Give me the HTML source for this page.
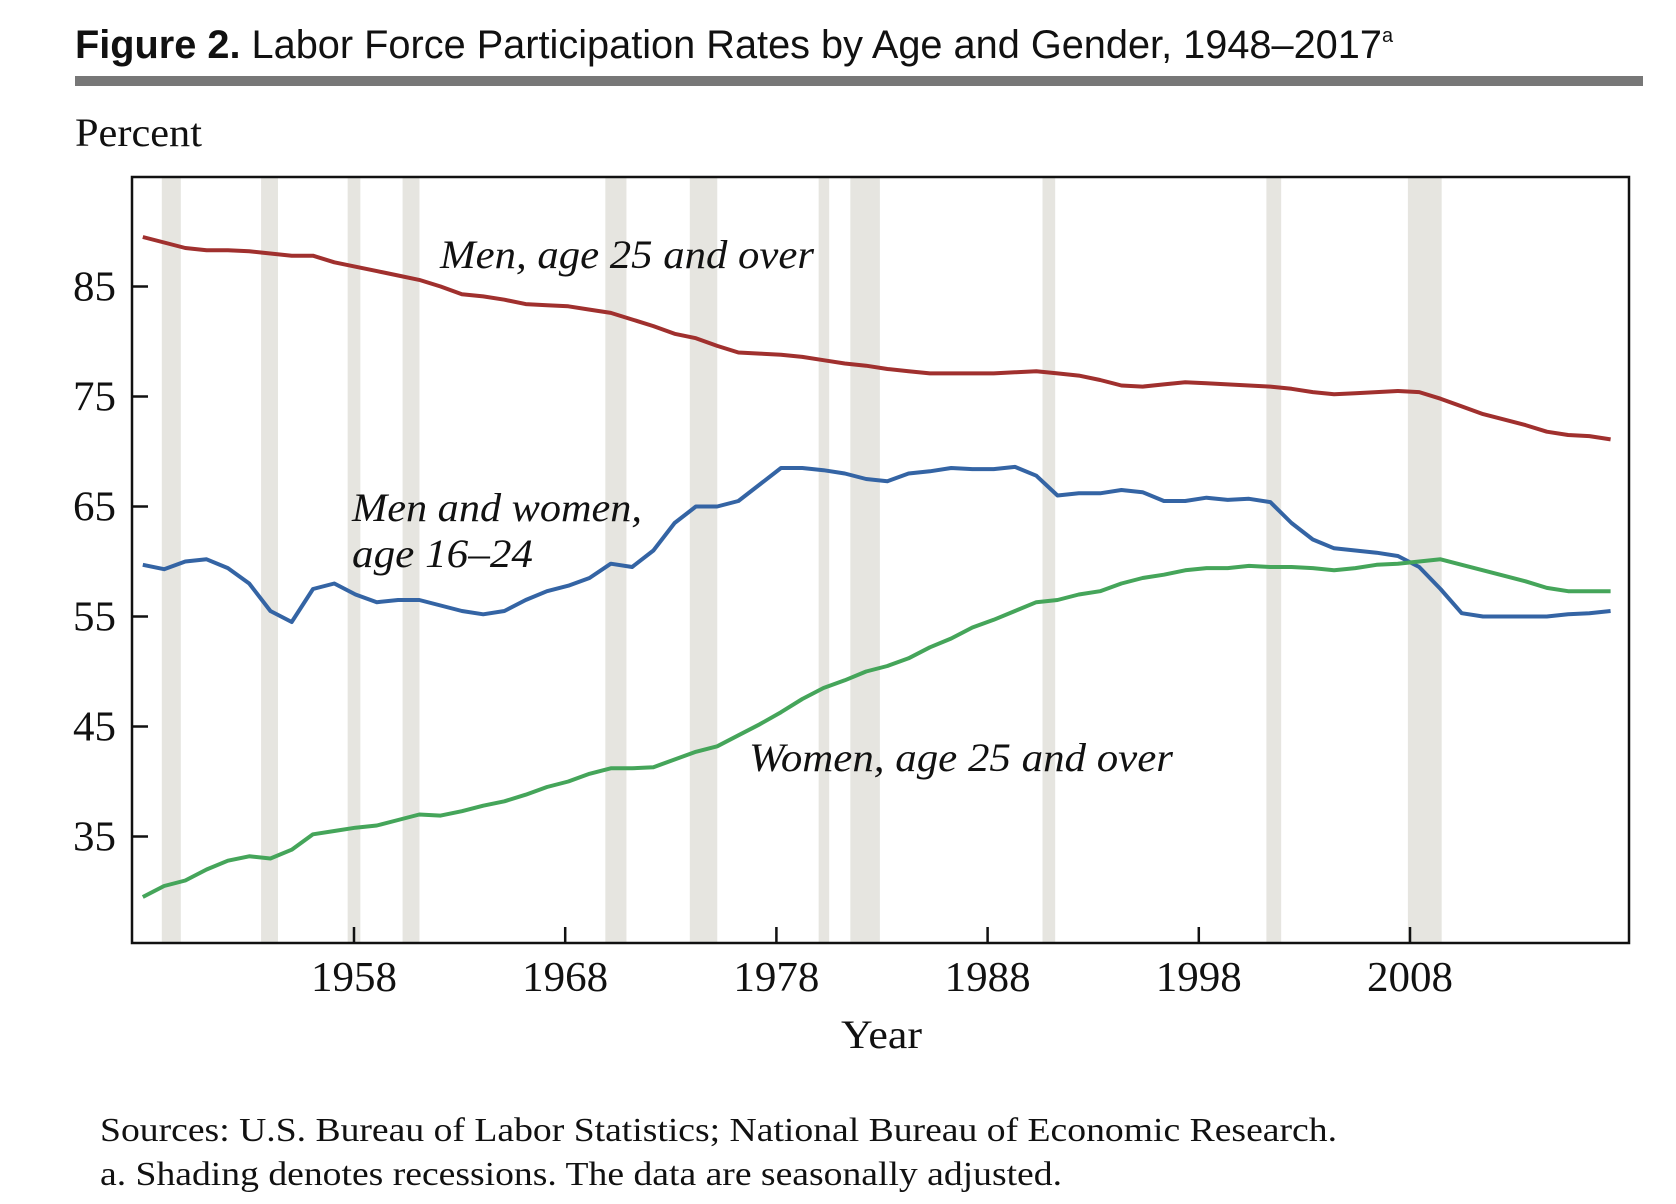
<!DOCTYPE html>
<html><head><meta charset="utf-8"><style>
html,body{margin:0;padding:0;background:#fff;}
svg{display:block;}
</style></head><body>
<svg id="chart" width="1676" height="1204" viewBox="0 0 1676 1204" xmlns="http://www.w3.org/2000/svg">
<text x="75" y="58" font-family="Liberation Sans Narrow, Liberation Sans, sans-serif" font-size="40" fill="#111" textLength="1318" lengthAdjust="spacingAndGlyphs"><tspan font-weight="bold">Figure 2.</tspan>  Labor Force Participation Rates by Age and Gender, 1948–2017<tspan font-size="20" dy="-16">a</tspan></text>
<rect x="75" y="76" width="1568" height="10" fill="#777"/>
<text x="75" y="146" font-family="Liberation Serif, serif" font-size="40" fill="#111" textLength="127" lengthAdjust="spacingAndGlyphs">Percent</text>
<g id="shades"></g>
<g id="lines"></g>
<g id="axes"></g>
<text x="440" y="268" font-family="Liberation Serif, serif" font-style="italic" font-size="40" fill="#111" textLength="374" lengthAdjust="spacingAndGlyphs">Men, age 25 and over</text>
<text x="352" y="521" font-family="Liberation Serif, serif" font-style="italic" font-size="40" fill="#111" textLength="290" lengthAdjust="spacingAndGlyphs">Men and women,</text>
<text x="352" y="567" font-family="Liberation Serif, serif" font-style="italic" font-size="40" fill="#111" textLength="181" lengthAdjust="spacingAndGlyphs">age 16–24</text>
<text x="749" y="771" font-family="Liberation Serif, serif" font-style="italic" font-size="40" fill="#111" textLength="424" lengthAdjust="spacingAndGlyphs">Women, age 25 and over</text>
<text x="841" y="1048" font-family="Liberation Serif, serif" font-size="40" fill="#111" textLength="81" lengthAdjust="spacingAndGlyphs">Year</text>
<text x="100" y="1141" font-family="Liberation Serif, serif" font-size="34" fill="#111" textLength="1237" lengthAdjust="spacingAndGlyphs">Sources: U.S. Bureau of Labor Statistics; National Bureau of Economic Research.</text>
<text x="100" y="1185" font-family="Liberation Serif, serif" font-size="34" fill="#111" textLength="962" lengthAdjust="spacingAndGlyphs">a. Shading denotes recessions. The data are seasonally adjusted.</text>
</svg>
<script>
const years = [];
for (let y = 1948; y <= 2017; y++) years.push(y);
const menOver25 = [89.5,89,88.5,88.3,88.3,88.2,88,87.8,87.8,87.2,86.8,86.4,86,85.6,85,84.3,84.1,83.8,83.4,83.3,83.2,82.9,82.6,82,81.4,80.7,80.3,79.6,79,78.9,78.8,78.6,78.3,78,77.8,77.5,77.3,77.1,77.1,77.1,77.1,77.2,77.3,77.1,76.9,76.5,76,75.9,76.1,76.3,76.2,76.1,76,75.9,75.7,75.4,75.2,75.3,75.4,75.5,75.4,74.8,74.1,73.4,72.9,72.4,71.8,71.5,71.4,71.1];
const youth16to24 = [59.7,59.3,60,60.2,59.4,58,55.5,54.5,57.5,58,57,56.3,56.5,56.5,56,55.5,55.2,55.5,56.5,57.3,57.8,58.5,59.8,59.5,61,63.5,65,65,65.5,67,68.5,68.5,68.3,68,67.5,67.3,68,68.2,68.5,68.4,68.4,68.6,67.8,66,66.2,66.2,66.5,66.3,65.5,65.5,65.8,65.6,65.7,65.4,63.5,62,61.2,61,60.8,60.5,59.5,57.5,55.3,55,55,55,55,55.2,55.3,55.5];
const womenOver25 = [29.5,30.5,31,32,32.8,33.2,33,33.8,35.2,35.5,35.8,36,36.5,37,36.9,37.3,37.8,38.2,38.8,39.5,40,40.7,41.2,41.2,41.3,42,42.7,43.2,44.2,45.2,46.3,47.5,48.5,49.2,50,50.5,51.2,52.2,53,54,54.7,55.5,56.3,56.5,57,57.3,58,58.5,58.8,59.2,59.4,59.4,59.6,59.5,59.5,59.4,59.2,59.4,59.7,59.8,60,60.2,59.7,59.2,58.7,58.2,57.6,57.3,57.3,57.3];
const recessionStarts = [1948.9,1953.6,1957.7,1960.3,1969.9,1973.9,1980.0,1981.5,1990.6,2001.2,2007.9];
const recessionEnds =   [1949.8,1954.4,1958.3,1961.1,1970.9,1975.2,1980.5,1982.9,1991.2,2001.9,2009.5];
const yTicks = [35,45,55,65,75,85];
const xTicks = [1958,1968,1978,1988,1998,2008];

const NS = 'http://www.w3.org/2000/svg';
const L = 132, R = 1629, T = 177, B = 943;
const xs = yr => 354 + (yr - 1958) * 21.12;
const ys = v => 286.5 + (85 - v) * 11.0;
function mk(tag, attrs, parent) {
  const e = document.createElementNS(NS, tag);
  for (const k in attrs) e.setAttribute(k, attrs[k]);
  parent.appendChild(e);
  return e;
}
const shades = document.getElementById('shades');
recessionStarts.forEach((s, i) => {
  const r = mk('rect', {x: xs(s), y: T, width: xs(recessionEnds[i]) - xs(s), height: B - T, fill: '#e6e5e0'}, shades);
  
  
});
const lines = document.getElementById('lines');
function drawSeries(vals, color, name) {
  const d = vals.map((v, i) => (i ? 'L' : 'M') + xs(years[i] + 0.5 * (i / (vals.length - 1))).toFixed(1) + ' ' + ys(v).toFixed(1)).join(' ');
  const p = mk('path', {d: d, fill: 'none', stroke: color, 'stroke-width': 4, 'stroke-linejoin': 'round'}, lines);
  
  
}
drawSeries(menOver25, '#a0302e', 'line-men-25-over');
drawSeries(youth16to24, '#3464a4', 'line-men-women-16-24');
drawSeries(womenOver25, '#45a55a', 'line-women-25-over');
const axes = document.getElementById('axes');
const frame = mk('rect', {x: L, y: T, width: R - L, height: B - T, fill: 'none', stroke: '#111', 'stroke-width': 2.5}, axes);


yTicks.forEach(t => {
  const ln = mk('line', {x1: L, x2: L + 16, y1: ys(t), y2: ys(t), stroke: '#111', 'stroke-width': 2.5}, axes);
  
  
  const tx = mk('text', {x: 116, y: ys(t) + 14, 'text-anchor': 'end', 'font-family': 'Liberation Serif, serif', 'font-size': 42, fill: '#111', textLength: 43, lengthAdjust: 'spacingAndGlyphs'}, axes);
  tx.textContent = t;
  
  
});
xTicks.forEach(t => {
  const ln = mk('line', {x1: xs(t), x2: xs(t), y1: B, y2: B - 16, stroke: '#111', 'stroke-width': 2.5}, axes);
  
  
  const tx = mk('text', {x: xs(t) - 43, y: 991, 'font-family': 'Liberation Serif, serif', 'font-size': 42, fill: '#111', textLength: 86, lengthAdjust: 'spacingAndGlyphs'}, axes);
  tx.textContent = t;
  
  
});
</script>
</body></html>
